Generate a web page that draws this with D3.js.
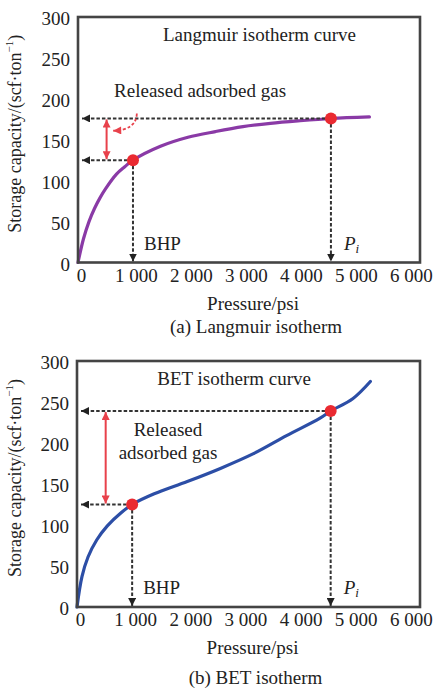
<!DOCTYPE html>
<html>
<head>
<meta charset="utf-8">
<script src="https://cdn.jsdelivr.net/npm/d3@7"></script>
<style>
  body { margin: 0; background: #fff; }
  svg { display: block; }
  text { font-family: "Liberation Serif", "DejaVu Serif", serif; fill: #222; }
</style>
</head>
<body>
<svg id="chart" width="437" height="688"></svg>
<script>
"use strict";

// data
const xTicks = [0, 1000, 2000, 3000, 4000, 5000, 6000];
const yTicks = [0, 50, 100, 150, 200, 250, 300];

const langmuirP = [0, 100, 200, 300, 400, 500, 700, 850, 1000, 1500, 2000, 2500, 3000, 3500, 4000, 4600, 5300];
const langmuirV = [0, 29, 50, 66, 79, 90, 108, 117, 125, 142, 153, 160, 166, 170, 173, 176, 178];

const betP = [0, 90, 200, 360, 550, 800, 1000, 1400, 2000, 2600, 3200, 3800, 4400, 4600, 5000, 5320];
const betV = [0, 37, 61, 82, 99, 115, 125, 138, 153, 169, 187, 209, 230, 239, 254, 275];

const keyP = [1000, 4600]; // BHP, Pi
const langmuirKeyV = [125, 176];
const betKeyV = [125, 239];

const xMax = 6220;
const fontSize = 19;
const serif = '"Liberation Serif", "DejaVu Serif", serif';

const svg = d3.select("#chart");
const fmt = d3.formatLocale({ decimal: ".", thousands: " ", grouping: [3], currency: ["", ""] }).format(",d");

// arrowheads
const defs = svg.append("defs");
function addMarker(id, color, w, h) {
  defs.append("marker")
    .attr("id", id)
    .attr("viewBox", "0 0 10 10")
    .attr("refX", 10)
    .attr("refY", 5)
    .attr("markerUnits", "userSpaceOnUse")
    .attr("markerWidth", w)
    .attr("markerHeight", h)
    .attr("orient", "auto-start-reverse")
    .append("path")
    .attr("d", "M0,0L10,5L0,10z")
    .attr("fill", color);
}
addMarker("arrow-black", "#222", 8, 8);
addMarker("arrow-red", "#e8414b", 9, 8);

function drawPanel(opt) {
  const g = svg.append("g").attr("transform", `translate(${opt.left},${opt.top})`);
  const w = opt.width, h = opt.height;
  const x = d3.scaleLinear().domain([0, xMax]).range([0, w]);
  const y = d3.scaleLinear().domain([0, 300]).range([h, 0]);

  // axes (no tick marks)
  const xAxis = g.append("g")
    .attr("transform", `translate(0,${h})`)
    .call(d3.axisBottom(x).tickValues(xTicks).tickSize(0).tickPadding(6).tickFormat(fmt));
  xAxis.selectAll("text").attr("dx", 3);
  const yAxis = g.append("g")
    .call(d3.axisLeft(y).tickValues(yTicks).tickSize(0).tickPadding(8));
  yAxis.selectAll("text").attr("dy", "0.42em");
  [xAxis, yAxis].forEach(a => {
    a.attr("font-family", null).attr("font-size", null);
    a.select(".domain").remove();
    a.selectAll("text")
      .style("font-family", serif)
      .style("font-size", fontSize + "px")
      .attr("fill", "#222");
  });

  // curve
  const pts = opt.P.map((p, i) => [p, opt.V[i]]);
  g.append("path")
    .datum(pts)
    .attr("d", d3.line().x(d => x(d[0])).y(d => y(d[1])).curve(d3.curveCatmullRom.alpha(0.5)))
    .attr("fill", "none")
    .attr("stroke", opt.color)
    .attr("stroke-width", 3.2)
    .attr("stroke-linecap", "round");

  // dashed guide arrows
  const keys = keyP.map((p, i) => ({ p: p, v: opt.keyV[i] }));
  keys.forEach(k => {
    g.append("line")
      .attr("x1", x(k.p)).attr("y1", y(k.v))
      .attr("x2", 4).attr("y2", y(k.v))
      .attr("stroke", "#333").attr("stroke-width", 2)
      .attr("stroke-dasharray", "3.5,2")
      .attr("marker-end", "url(#arrow-black)");
    g.append("line")
      .attr("x1", x(k.p)).attr("y1", y(k.v))
      .attr("x2", x(k.p)).attr("y2", h - 1)
      .attr("stroke", "#333").attr("stroke-width", 2)
      .attr("stroke-dasharray", "3.5,2")
      .attr("marker-end", "url(#arrow-black)");
  });

  // red double arrow (released gas)
  g.append("line")
    .attr("x1", x(520)).attr("y1", y(keys[1].v) + 1)
    .attr("x2", x(520)).attr("y2", y(keys[0].v) - 1)
    .attr("stroke", "#e8414b").attr("stroke-width", 2)
    .attr("marker-start", "url(#arrow-red)")
    .attr("marker-end", "url(#arrow-red)");

  // frame
  g.append("rect")
    .attr("width", w).attr("height", h)
    .attr("fill", "none")
    .attr("stroke", "#444")
    .attr("stroke-width", 2.6);

  // key points
  g.selectAll("circle.key")
    .data(keys)
    .join("circle")
    .attr("class", "key")
    .attr("cx", d => x(d.p))
    .attr("cy", d => y(d.v))
    .attr("r", 6)
    .attr("fill", "#ea2a31");

  // labels
  g.append("text")
    .attr("x", x(keyP[0]) + 11).attr("y", h - 17)
    .attr("dominant-baseline", "middle")
    .style("font-size", fontSize + "px")
    .text("BHP");
  const pi = g.append("text")
    .attr("x", x(keyP[1]) + 13).attr("y", h - 17)
    .attr("dominant-baseline", "middle")
    .style("font-size", fontSize + "px");
  pi.append("tspan").style("font-style", "italic").text("P");
  pi.append("tspan").style("font-style", "italic").style("font-size", "13px")
    .attr("dy", 4).text("i");

  g.append("text")
    .attr("x", x(opt.titleP)).attr("y", y(276))
    .attr("text-anchor", "middle")
    .attr("dominant-baseline", "middle")
    .style("font-size", fontSize + "px")
    .text(opt.title);

  opt.note.forEach((line, i) => {
    g.append("text")
      .attr("x", x(opt.noteP)).attr("y", y(opt.noteV) + i * 23)
      .attr("text-anchor", "middle")
      .attr("dominant-baseline", "middle")
      .style("font-size", fontSize + "px")
      .text(line);
  });

  if (opt.hook) {
    g.append("path")
      .attr("d", `M${x(1070)},${y(182)}Q${x(1060)},${y(162)} ${x(640)},${y(161)}`)
      .attr("fill", "none")
      .attr("stroke", "#e8414b").attr("stroke-width", 1.8)
      .attr("stroke-dasharray", "3,2")
      .attr("marker-end", "url(#arrow-red)");
  }

  // axis titles and caption
  g.append("text")
    .attr("x", w / 2 + 4).attr("y", h + 43)
    .attr("text-anchor", "middle")
    .attr("dominant-baseline", "middle")
    .style("font-size", fontSize + "px")
    .text("Pressure/psi");
  g.append("text")
    .attr("x", w / 2 + 7).attr("y", h + opt.capGap)
    .attr("text-anchor", "middle")
    .attr("dominant-baseline", "middle")
    .style("font-size", fontSize + "px")
    .text(opt.caption);

  const yt = g.append("text")
    .attr("transform", `translate(${17 - opt.left},${h / 2 - 6}) rotate(-90)`)
    .attr("text-anchor", "middle")
    .attr("dominant-baseline", "middle")
    .style("font-size", "18px");
  yt.append("tspan").text("Storage capacity/(scf\u00b7ton");
  yt.append("tspan").style("font-size", "11px").attr("dy", -7).text("\u22121");
  yt.append("tspan").attr("dy", 7).text(")");
}

drawPanel({
  left: 78, top: 17, width: 342, height: 245.5,
  P: langmuirP, V: langmuirV, keyV: langmuirKeyV,
  color: "#8a3aa6",
  title: "Langmuir isotherm curve", titleP: 3300,
  note: ["Released adsorbed gas"], noteP: 2220, noteV: 208,
  hook: true,
  caption: "(a) Langmuir isotherm", capGap: 66
});

drawPanel({
  left: 77, top: 361, width: 343, height: 246,
  P: betP, V: betV, keyV: betKeyV,
  color: "#2c4ea6",
  title: "BET isotherm curve", titleP: 2850,
  note: ["Released", "adsorbed gas"], noteP: 1650, noteV: 214,
  hook: false,
  caption: "(b) BET isotherm", capGap: 73
});
</script>
</body>
</html>
